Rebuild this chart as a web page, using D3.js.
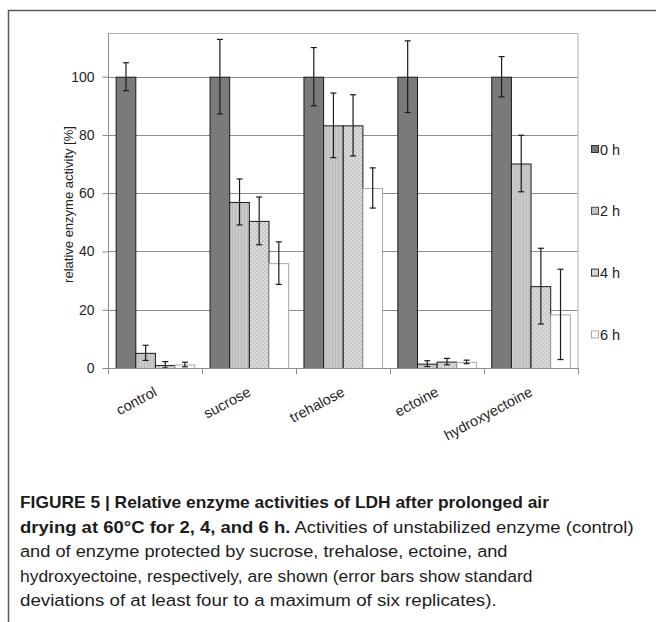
<!DOCTYPE html>
<html>
<head>
<meta charset="utf-8">
<script src="https://cdn.jsdelivr.net/npm/d3@7"></script>
<style>
  html, body { margin: 0; padding: 0; background: #fff; }
  svg { display: block; }
</style>
</head>
<body>
<svg id="fig" width="656" height="622"></svg>
<script>
// Relative LDH activity after air drying at 60 °C
const categories = ["control", "sucrose", "trehalose", "ectoine", "hydroxyectoine"];
const series = ["0 h", "2 h", "4 h", "6 h"];
const values = [
  [100, 5.2, 1.0, 1.2],
  [100, 57.0, 50.5, 36.0],
  [100, 83.3, 83.3, 61.8],
  [100, 1.5, 2.2, 2.1],
  [100, 70.2, 28.1, 18.4]
];
const errors = [
  [4.8, 2.6, 1.2, 0.8],
  [12.8, 7.9, 8.2, 7.3],
  [10.0, 11.1, 10.5, 6.9],
  [12.3, 1.0, 1.1, 0.6],
  [6.9, 9.7, 13.0, 15.5]
];
const yTicks = [0, 20, 40, 60, 80, 100];
const captionLines = [
  [{ t: "FIGURE 5 | Relative enzyme activities of LDH after prolonged air", b: true }],
  [{ t: "drying at 60°C for 2, 4, and 6 h.", b: true }, { t: " Activities of unstabilized enzyme (control)", b: false }],
  [{ t: "and of enzyme protected by sucrose, trehalose, ectoine, and", b: false }],
  [{ t: "hydroxyectoine, respectively, are shown (error bars show standard", b: false }],
  [{ t: "deviations of at least four to a maximum of six replicates).", b: false }]
];

(function () {
const svg = d3.select("#fig");
const font = "Liberation Sans, Arial, Helvetica, sans-serif";

// figure frame (top and left edges)
svg.append("path")
  .attr("d", "M8.5,622 V10.5 H656")
  .attr("fill", "none").attr("stroke", "#5a5a5a").attr("stroke-width", 1.5);

// fill patterns for the series
const defs = svg.append("defs");
const p0 = defs.append("pattern").attr("id", "pat0").attr("patternUnits", "userSpaceOnUse")
  .attr("width", 4).attr("height", 4);
p0.append("rect").attr("width", 4).attr("height", 4).attr("fill", "#7e7e7e");
p0.append("rect").attr("width", 2).attr("height", 2).attr("fill", "#767676");
p0.append("rect").attr("x", 2).attr("y", 2).attr("width", 2).attr("height", 2).attr("fill", "#767676");

const p1 = defs.append("pattern").attr("id", "pat1").attr("patternUnits", "userSpaceOnUse")
  .attr("width", 3).attr("height", 3);
p1.append("rect").attr("width", 3).attr("height", 3).attr("fill", "#cbcbcb");
p1.append("rect").attr("width", 1).attr("height", 3).attr("fill", "#b8b8b8");

const p2 = defs.append("pattern").attr("id", "pat2").attr("patternUnits", "userSpaceOnUse")
  .attr("width", 4).attr("height", 4);
p2.append("rect").attr("width", 4).attr("height", 4).attr("fill", "#dcdcdc");
p2.append("rect").attr("width", 2).attr("height", 2).attr("fill", "#c6c6c6");
p2.append("rect").attr("x", 2).attr("y", 2).attr("width", 2).attr("height", 2).attr("fill", "#c6c6c6");

const fills = ["url(#pat0)", "url(#pat1)", "url(#pat2)", "#ffffff"];
const strokes = ["#1a1a1a", "#1a1a1a", "#1a1a1a", "#a8a8a8"];
const legendFills = ["#7a7a7a", "#c4c4c4", "#d4d4d4", "#ffffff"];
const legendStrokes = ["#333", "#444", "#333", "#aaa"];

// plot area
const pLeft = 108, pRight = 577.5, pTop = 33, pBottom = 368;
const x = d3.scaleBand().domain(categories).range([pLeft, pRight]).paddingInner(0).paddingOuter(0);
const xs = d3.scaleBand().domain(series).range([0, x.bandwidth()]).paddingInner(0).paddingOuter(0.39);
const y = d3.scaleLinear().domain([0, 115]).range([pBottom, pTop]);

// horizontal gridlines
svg.append("g").selectAll("line").data(yTicks.filter(v => v > 0)).join("line")
  .attr("x1", pLeft).attr("x2", pRight)
  .attr("y1", d => Math.round(y(d)) + 0.5).attr("y2", d => Math.round(y(d)) + 0.5)
  .attr("stroke", "#8c8c8c").attr("stroke-width", 1);

// plot area top and right border
svg.append("path")
  .attr("d", `M${pLeft},${pTop + 0.5} H${pRight + 0.5} V${pBottom}`)
  .attr("fill", "none").attr("stroke", "#b0b0b0").attr("stroke-width", 1);

// bars
const groups = svg.append("g").selectAll("g").data(categories).join("g")
  .attr("transform", d => `translate(${x(d)},0)`);

groups.selectAll("rect").data((c, i) => series.map((s, j) => ({ s, j, v: values[i][j] }))).join("rect")
  .attr("x", d => xs(d.s) + 0.5)
  .attr("width", xs.bandwidth())
  .attr("y", d => y(d.v) + 0.5)
  .attr("height", d => y(0) - y(d.v))
  .attr("fill", d => fills[d.j])
  .attr("stroke", d => strokes[d.j])
  .attr("stroke-width", 1);

// error bars
const eb = groups.selectAll("g.err").data((c, i) => series.map((s, j) => ({ s, j, v: values[i][j], e: errors[i][j] })))
  .join("g").attr("class", "err")
  .attr("transform", d => `translate(${xs(d.s) + xs.bandwidth() / 2},0)`);
eb.append("line").attr("x1", 0.5).attr("x2", 0.5)
  .attr("y1", d => y(d.v + d.e)).attr("y2", d => y(Math.max(0, d.v - d.e)))
  .attr("stroke", "#1a1a1a").attr("stroke-width", 1.2);
eb.append("line").attr("x1", -2.5).attr("x2", 3.5)
  .attr("y1", d => y(d.v + d.e)).attr("y2", d => y(d.v + d.e))
  .attr("stroke", "#1a1a1a").attr("stroke-width", 1.2);
eb.append("line").attr("x1", -2.5).attr("x2", 3.5)
  .attr("y1", d => y(Math.max(0, d.v - d.e))).attr("y2", d => y(Math.max(0, d.v - d.e)))
  .attr("stroke", "#1a1a1a").attr("stroke-width", 1.2);

// y axis
const yAxis = svg.append("g").attr("transform", `translate(${pLeft + 0.5},0)`)
  .call(d3.axisLeft(y).tickValues(yTicks).tickSize(6).tickPadding(8));
yAxis.select(".domain").attr("stroke", "#8c8c8c").attr("d", `M0,${pTop}V${pBottom + 0.5}`);
yAxis.selectAll(".tick line").attr("stroke", "#8c8c8c");
yAxis.selectAll(".tick text").attr("font-family", font).attr("font-size", 14).attr("fill", "#1e1e1e");

// x axis with ticks on category boundaries
const xAxisG = svg.append("g");
xAxisG.append("line").attr("x1", pLeft).attr("x2", pRight + 0.5)
  .attr("y1", pBottom + 0.5).attr("y2", pBottom + 0.5).attr("stroke", "#8c8c8c");
const bounds = categories.map(c => x(c)).concat([x(categories[categories.length - 1]) + x.bandwidth()]);
xAxisG.selectAll("line.tk").data(bounds).join("line").attr("class", "tk")
  .attr("x1", d => Math.round(d) + 0.5).attr("x2", d => Math.round(d) + 0.5)
  .attr("y1", pBottom).attr("y2", pBottom + 6).attr("stroke", "#8c8c8c");
xAxisG.selectAll("text").data(categories).join("text")
  .attr("transform", d => `translate(${x(d) + x.bandwidth() / 2 + 3},${pBottom + 27}) rotate(-28)`)
  .attr("text-anchor", "end")
  .attr("font-family", font).attr("font-size", 14.5).attr("fill", "#1e1e1e")
  .text(d => d);

// y axis title
svg.append("text")
  .attr("transform", `translate(73,${(pTop + pBottom) / 2 + 4}) rotate(-90)`)
  .attr("text-anchor", "middle")
  .attr("font-family", font).attr("font-size", 13).attr("fill", "#1e1e1e")
  .text("relative enzyme activity [%]");

// legend
const legend = svg.append("g").selectAll("g").data(series).join("g")
  .attr("transform", (d, i) => `translate(591,${149 + i * 61.8})`);
legend.append("rect").attr("x", 0.5).attr("y", -3.5).attr("width", 7).attr("height", 7)
  .attr("fill", (d, i) => legendFills[i]).attr("stroke", (d, i) => legendStrokes[i]);
legend.append("text").attr("x", 9).attr("y", 5.5)
  .attr("font-family", font).attr("font-size", 14.5).attr("fill", "#1e1e1e")
  .text(d => d);

// caption, each line fitted to its printed width
const capWidths = [529, 614, 488, 513, 477];
const capY = [508, 532.5, 557, 581.5, 606];
captionLines.forEach((line, i) => {
  const t = svg.append("text")
    .attr("font-family", "Liberation Sans Narrow, Liberation Sans, Arial, sans-serif")
    .attr("font-size", 16.5).attr("fill", "#1c1c1c");
  line.forEach(seg => {
    t.append("tspan").attr("font-weight", seg.b ? "bold" : "normal").text(seg.t);
  });
  const w = t.node().getComputedTextLength();
  t.attr("transform", `translate(20,${capY[i]}) scale(${capWidths[i] / w},1)`);
});
})();
</script>
</body>
</html>
